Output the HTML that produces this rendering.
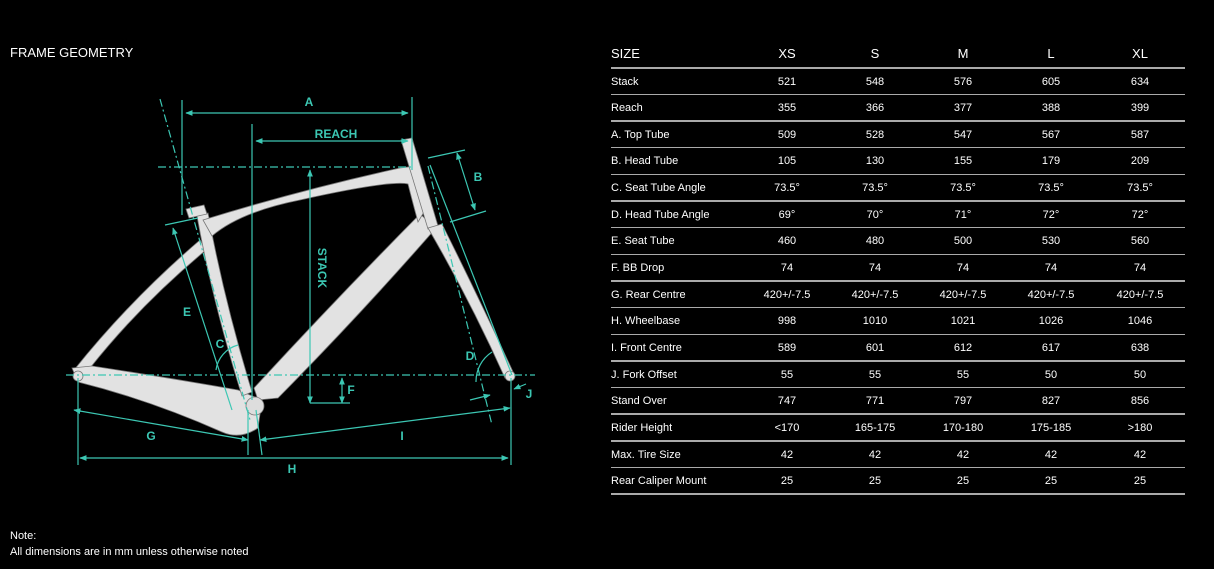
<!DOCTYPE html>
<html><head><meta charset="utf-8"><style>
html,body{margin:0;padding:0;background:#000;}
body{width:1214px;height:569px;position:relative;overflow:hidden;font-family:"Liberation Sans",sans-serif;color:#fff;}
.t{position:absolute;white-space:nowrap;}
.title{left:10px;top:45px;font-size:13px;}
.note{left:10px;font-size:11px;}
.row{position:absolute;left:611px;width:574px;height:26px;font-size:11px;}
.row span{position:absolute;top:0;line-height:26px;}
.row .c{transform:translateX(-50%);}
.hdr{font-size:13px;}
.ln{position:absolute;left:611px;width:574px;height:1.5px;background:#aaa;}
</style></head><body>
<div class="t title">FRAME GEOMETRY</div>
<div class="t note" style="top:530px">Note:</div>
<div class="t note" style="top:546px">All dimensions are in mm unless otherwise noted</div>

<svg width="600" height="569" style="position:absolute;left:0;top:0" xmlns="http://www.w3.org/2000/svg">
<defs>
<marker id="ar" viewBox="0 0 10 10" refX="9" refY="5" markerWidth="6" markerHeight="6" orient="auto-start-reverse"><path d="M0 1 L10 5 L0 9 Z" fill="#3cc7b3"/></marker>
</defs>
<g fill="#e2e2e2" stroke="#777" stroke-width="0.8">
 <path d="M74 370 Q130 300 200 240 L206 250 Q140 305 90 368 Z"/>
 <path d="M72 368 L92 366 Q170 378 238 390 L262 400 L258 428 Q240 440 222 432 Q150 400 78 382 Z"/>
 <path d="M420 214 L436 228 Q360 315 278 398 L258 400 L254 388 Q335 300 420 214 Z"/>
 <path d="M197 216 L208 213 Q224 300 252 392 L242 396 Q212 300 197 216 Z"/>
 <path d="M203 220 Q300 190 400 168 L416 166 L424 212 L418 222 Q412 200 408 184 Q390 180 300 200 Q240 212 212 236 Z"/>
 <path d="M401 140 L412 138 L438 226 L428 229 Z"/>
 <path d="M428 228 L442 224 Q480 300 514 374 L505 378 Q470 300 428 228 Z"/>
 <circle cx="255" cy="406" r="9" fill="#ddd"/>
 <path d="M186 209 L204 205 L207 214 L189 218 Z"/>
 <circle cx="78" cy="376" r="5"/>
 <circle cx="510" cy="376" r="5"/>
</g>
<g stroke="#3cc7b3" stroke-width="1.2" fill="none">
 <line x1="182" y1="100" x2="182" y2="215"/>
 <line x1="412" y1="97" x2="412" y2="170"/>
 <line x1="186" y1="113" x2="408" y2="113" marker-start="url(#ar)" marker-end="url(#ar)"/>
 <line x1="252" y1="124" x2="252" y2="400"/>
 <line x1="256" y1="141" x2="408" y2="141" marker-start="url(#ar)" marker-end="url(#ar)"/>
 <line x1="158" y1="167" x2="412" y2="167" stroke-dasharray="8 3 2 3"/>
 <line x1="310" y1="170" x2="310" y2="403" marker-start="url(#ar)" marker-end="url(#ar)"/>
 <line x1="310" y1="403" x2="350" y2="403"/>
 <line x1="342" y1="378" x2="342" y2="403" marker-start="url(#ar)" marker-end="url(#ar)"/>
 <line x1="160" y1="99" x2="250" y2="420" stroke-dasharray="8 3 2 3"/>
 <line x1="428" y1="166" x2="492" y2="425" stroke-dasharray="8 3 2 3"/>
 <line x1="430" y1="165" x2="512" y2="375"/>
 <line x1="428" y1="158" x2="465" y2="150"/>
 <line x1="450" y1="222" x2="486" y2="211"/>
 <line x1="457" y1="153" x2="475" y2="210" marker-start="url(#ar)" marker-end="url(#ar)"/>
 <line x1="66" y1="375" x2="535" y2="375" stroke-dasharray="8 3 2 3"/>
 <line x1="165" y1="225" x2="198" y2="218"/>
 <line x1="173" y1="228" x2="232" y2="410" marker-start="url(#ar)"/>
 <line x1="78" y1="378" x2="78" y2="465"/>
 <line x1="511" y1="378" x2="511" y2="465"/>
 <line x1="80" y1="458" x2="508" y2="458" marker-start="url(#ar)" marker-end="url(#ar)"/>
 <line x1="74" y1="410" x2="248" y2="440" marker-start="url(#ar)" marker-end="url(#ar)"/>
 <line x1="260" y1="440" x2="510" y2="408" marker-start="url(#ar)" marker-end="url(#ar)"/>
 <line x1="248" y1="410" x2="248" y2="455"/>
 <line x1="256" y1="410" x2="262" y2="455"/>
 <path d="M216 370 A30 30 0 0 1 238 345"/>
 <path d="M476 382 A35 35 0 0 1 492 352"/>
 <line x1="470" y1="400" x2="490" y2="395" marker-end="url(#ar)"/>
 <line x1="526" y1="384" x2="514" y2="389" marker-end="url(#ar)"/>
</g>
<g fill="#3cc7b3" font-family="Liberation Sans,sans-serif" font-weight="bold" font-size="12" text-anchor="middle">
 <text x="309" y="106">A</text>
 <text x="336" y="138">REACH</text>
 <text x="478" y="181">B</text>
 <text x="220" y="348">C</text>
 <text x="470" y="360">D</text>
 <text x="187" y="316">E</text>
 <text x="351" y="394">F</text>
 <text x="151" y="440">G</text>
 <text x="292" y="473">H</text>
 <text x="402" y="440">I</text>
 <text x="529" y="398">J</text>
 <text x="318" y="268" transform="rotate(90 318 268)">STACK</text>
</g>
</svg>

<div id="tbl"></div>
<script>
var rows=[["SIZE","XS","S","M","L","XL"],["Stack","521","548","576","605","634"],["Reach","355","366","377","388","399"],["A. Top Tube","509","528","547","567","587"],["B. Head Tube","105","130","155","179","209"],["C. Seat Tube Angle","73.5°","73.5°","73.5°","73.5°","73.5°"],["D. Head Tube Angle","69°","70°","71°","72°","72°"],["E. Seat Tube","460","480","500","530","560"],["F. BB Drop","74","74","74","74","74"],["G. Rear Centre","420+/-7.5","420+/-7.5","420+/-7.5","420+/-7.5","420+/-7.5"],["H. Wheelbase","998","1010","1021","1026","1046"],["I. Front Centre","589","601","612","617","638"],["J. Fork Offset","55","55","55","50","50"],["Stand Over","747","771","797","827","856"],["Rider Height","<170","165-175","170-180","175-185",">180"],["Max. Tire Size","42","42","42","42","42"],["Rear Caliper Mount","25","25","25","25","25"]];
var cx=[176,264,352,440,529],h="";
for(var i=0;i<rows.length;i++){
 var y=(i==0?41:68.5+26.65*(i-1));
 h+='<div class="row'+(i==0?' hdr':'')+'" style="top:'+y+'px">';
 h+='<span style="left:0">'+rows[i][0].replace('<','&lt;').replace('>','&gt;')+'</span>';
 for(var j=1;j<6;j++)h+='<span class="c" style="left:'+cx[j-1]+'px">'+rows[i][j].replace('<','&lt;').replace('>','&gt;')+'</span>';
 h+='</div>';
 h+='<div class="ln" style="top:'+(67+26.65*i)+'px"></div>';
}
document.getElementById('tbl').innerHTML=h;
</script>
</body></html>
